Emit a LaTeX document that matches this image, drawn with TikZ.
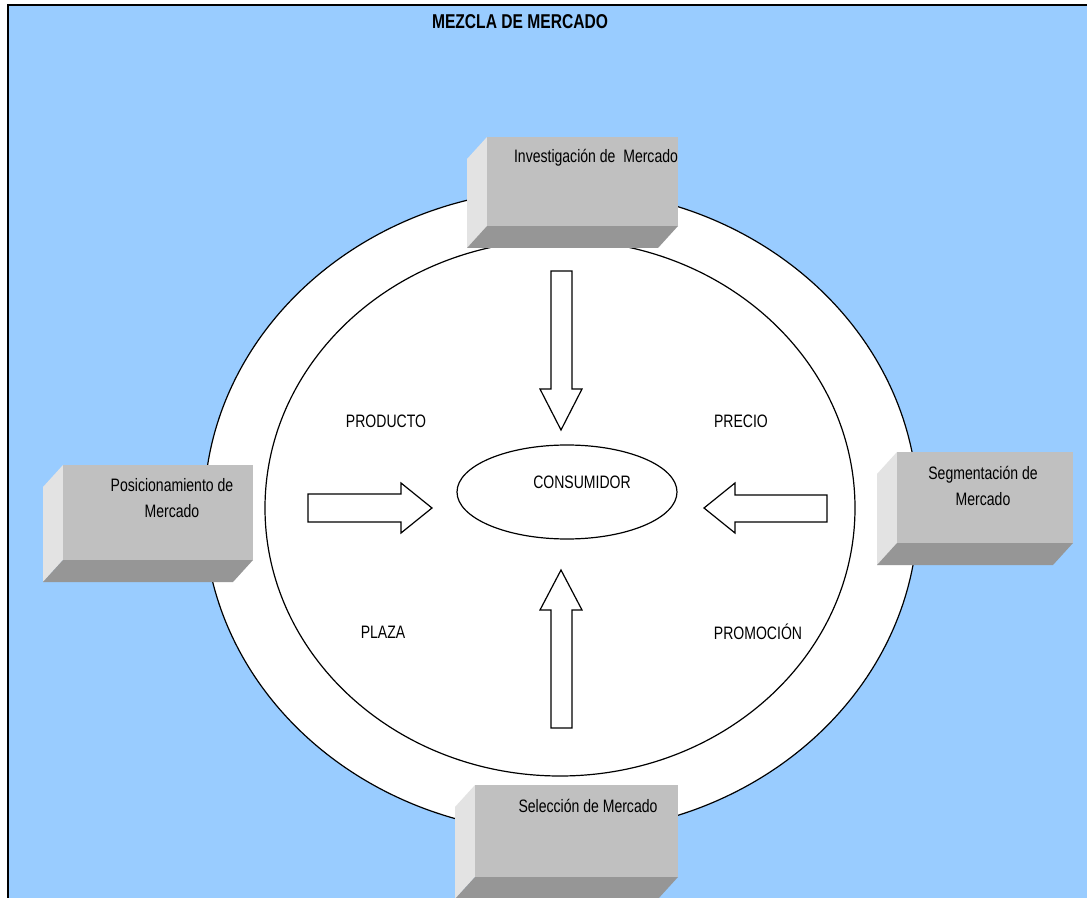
\documentclass[tikz,border=0pt]{standalone}
\usepackage{fontspec}
\setmainfont{Liberation Sans}[FakeStretch=0.78]
\usepackage{tikz}
\usetikzlibrary{positioning,shapes.geometric}
\definecolor{fondo}{HTML}{99CCFF}
\definecolor{frente}{HTML}{C0C0C0}
\definecolor{claro}{HTML}{E3E3E3}
\definecolor{oscuro}{HTML}{969696}
\tikzset{
  elip/.style={draw=black,fill=white,line width=0.6pt},
  flecha/.style={draw=black,fill=white,line width=0.6pt,line join=miter},
  etq/.style={font=\fontsize{9}{13}\selectfont,align=center,inner sep=0pt},
  tit/.style={font=\bfseries\fontsize{10}{12}\selectfont,inner sep=0pt},
}
% caja con bisel: x1, y1, x2, y2, nombre
\newcommand{\cajabisel}[5]{%
  \fill[claro] (#1,#2+22) -- (#1+20,#2) -- (#1+20,#4-22) -- (#1,#4) -- cycle;
  \fill[oscuro] (#1,#4) -- (#1+20,#4-22) -- (#3,#4-22) -- (#3-20,#4) -- cycle;
  \fill[frente] (#1+20,#2) rectangle (#3,#4-22);
  \coordinate (#5) at (#1+20,#2);}

\begin{document}
\begin{tikzpicture}[x=0.5pt,y=-0.5pt]
  \useasboundingbox (0,0) rectangle (1087,898);
  \fill[fondo] (8,5) rectangle (1087,898);
  \draw[line width=1pt] (8,898) -- (8,5) -- (1087,5);
  \node[tit] (titulo) at (520,22) {MEZCLA DE MERCADO};

  \draw[elip] (561,511) ellipse [x radius=357,y radius=322];
  \draw[elip] (560,508) ellipse [x radius=295,y radius=268];

  \cajabisel{467}{137}{678}{248}{inv}
  \cajabisel{43}{465}{253}{582}{pos}
  \cajabisel{877}{452}{1073}{565}{seg}
  \cajabisel{455}{785}{678}{899}{sel}
  \node[etq] (inv-t) at (596,158) {Investigaci\'on de\ \ Mercado};
  \node[etq] (pos-t) at (172,498) {Posicionamiento de\\Mercado};
  \node[etq] (seg-t) at (983,486) {Segmentaci\'on de\\Mercado};
  \node[etq] (sel-t) at (588,806) {Selecci\'on de Mercado};

  \node[ellipse,draw,line width=0.6pt,minimum width=110pt,minimum height=47pt] (cons) at (567,492) {};
  \node[etq] (cons-t) at (582,482) {CONSUMIDOR};

  \draw[flecha] (551,271) -- (572,271) -- (572,389) -- (582,389) -- (561,430) -- (540,389) -- (551,389) -- cycle;
  \draw[flecha] (551,728) -- (572,728) -- (572,610) -- (582,610) -- (561,570) -- (540,610) -- (551,610) -- cycle;
  \draw[flecha] (308,494) -- (401,494) -- (401,483) -- (432,508) -- (401,533) -- (401,522) -- (308,522) -- cycle;
  \draw[flecha] (827,495) -- (735,495) -- (735,483) -- (704,508) -- (735,533) -- (735,522) -- (827,522) -- cycle;

  \node[etq] (producto) at (386,421) {PRODUCTO};
  \node[etq] (precio) at (741,421) {PRECIO};
  \node[etq] (plaza) at (383,632) {PLAZA};
  \node[etq] (promocion) at (758,632) {PROMOCI\'ON};
\end{tikzpicture}
\end{document}
